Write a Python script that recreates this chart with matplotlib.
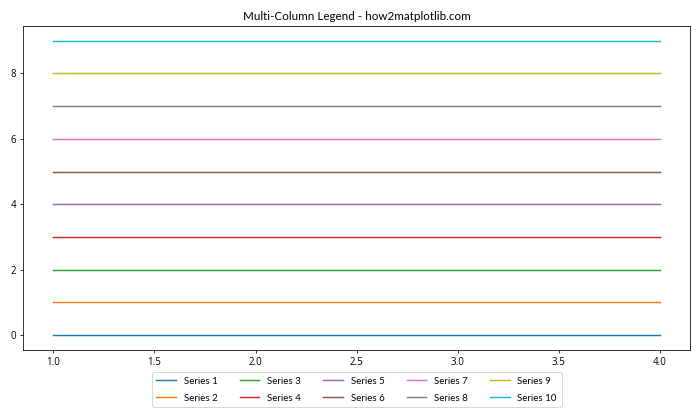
import matplotlib.pyplot as plt
import numpy as np

plt.rcParams['font.family'] = ['Lato', 'DejaVu Sans']

x = [1, 2, 3, 4]
levels = [0, 1, 2, 3, 4, 5, 6, 7, 8, 9]
labels = [f'Series {i + 1}' for i in range(10)]

fig, ax = plt.subplots(figsize=(10, 6), dpi=70)
fig.subplots_adjust(left=0.033, right=0.986, bottom=0.167, top=0.938)

for lvl, lab in zip(levels, labels):
    ax.plot(x, np.full(len(x), lvl), label=lab)

# Lato's full stop nearly vanishes at this size, so ticks use Open Sans
ax.tick_params(labelfontfamily='Open Sans')

ax.set_title('Multi-Column Legend - how2matplotlib.com')
ax.legend(loc='upper center', bbox_to_anchor=(0.5, -0.053), ncol=5,
          labelspacing=0.8, columnspacing=2.3, borderpad=0.5)

fig.savefig('out.png')
